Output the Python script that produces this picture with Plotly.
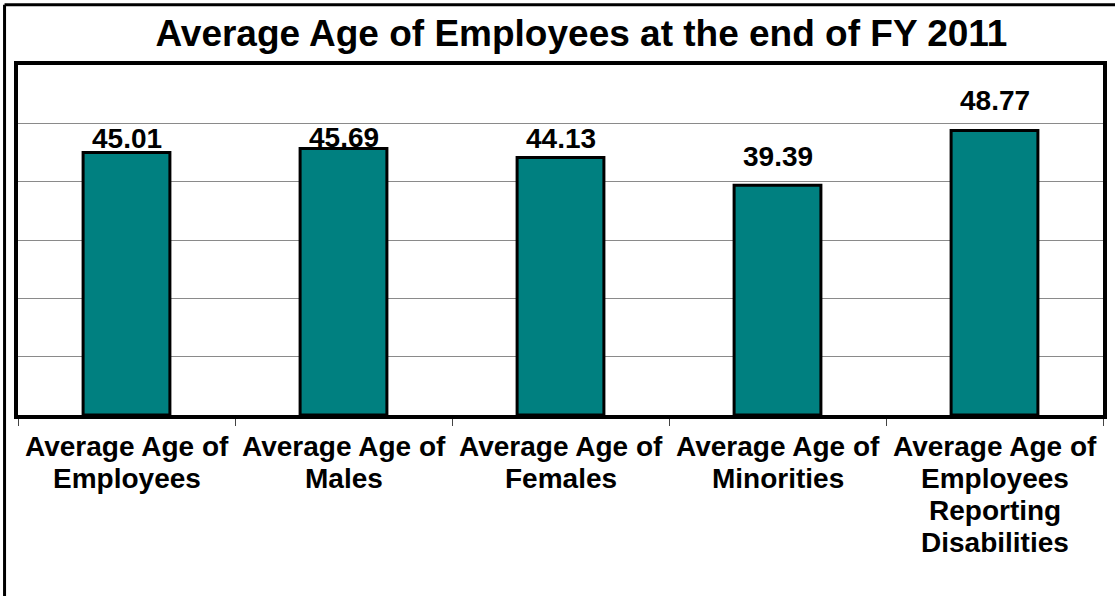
import plotly.graph_objects as go

# Chart data
categories = [
    "Average Age of Employees",
    "Average Age of Males",
    "Average Age of Females",
    "Average Age of Minorities",
    "Average Age of Employees Reporting Disabilities",
]
category_lines = [
    ["Average Age of", "Employees"],
    ["Average Age of", "Males"],
    ["Average Age of", "Females"],
    ["Average Age of", "Minorities"],
    ["Average Age of", "Employees", "Reporting", "Disabilities"],
]
avg_age = [45.01, 45.69, 44.13, 39.39, 48.77]

# Styling
FONT = "Liberation Sans, Arial, sans-serif"
BAR_COLOR = "#008080"
label_shift = [14, 10.5, 19.5, 28.5, 30]   # vertical offset of each value label (px)
line_step = 32                              # spacing of category label lines (px)
first_line_shift = -31

fig = go.Figure()
fig.add_trace(go.Bar(
    x=categories,
    y=avg_age,
    width=0.4,
    marker=dict(color=BAR_COLOR, line=dict(color="black", width=3)),
    hoverinfo="x+y",
))

annotations = []
# value labels above the bars
for cat, val, dy in zip(categories, avg_age, label_shift):
    annotations.append(dict(
        x=cat, y=val, xref="x", yref="y",
        text=f"<b>{val:.2f}</b>", showarrow=False,
        yanchor="middle", yshift=dy,
        font=dict(family=FONT, size=28, color="black"),
    ))
# multi-line category labels under the axis
for cat, lines in zip(categories, category_lines):
    for i, line in enumerate(lines):
        annotations.append(dict(
            x=cat, y=0, xref="x", yref="paper",
            text=f"<b>{line}</b>", showarrow=False,
            yanchor="middle", yshift=first_line_shift - i * line_step,
            font=dict(family=FONT, size=28, color="black"),
        ))

fig.update_layout(
    width=1115, height=596,
    margin=dict(l=18, r=8, t=65, b=181),
    paper_bgcolor="white",
    plot_bgcolor="white",
    showlegend=False,
    title=dict(
        text="<b>Average Age of Employees at the end of FY 2011</b>",
        font=dict(family=FONT, size=37, color="black"),
        x=0.5215, xanchor="center",
        y=1 - 33 / 596, yanchor="middle", yref="container",
    ),
    annotations=annotations,
    shapes=[
        # frame around the whole figure (top and left edges)
        dict(type="line", xref="paper", yref="paper",
             x0=-0.0124, x1=1.02, y0=1.172, y1=1.172,
             line=dict(color="black", width=3)),
        dict(type="line", xref="paper", yref="paper",
             x0=-0.0124, x1=-0.0124, y0=1.172, y1=-0.55,
             line=dict(color="black", width=3)),
    ],
)

fig.update_xaxes(
    showline=True, linecolor="black", linewidth=4, mirror=True,
    showticklabels=False,
    ticks="outside", tickson="boundaries", ticklen=7,
    tickcolor="#444444", tickwidth=1,
    showgrid=False, fixedrange=True,
)
fig.update_yaxes(
    range=[0, 60], dtick=10,
    showline=True, linecolor="black", linewidth=4, mirror=True,
    showticklabels=False, ticks="",
    showgrid=True, gridcolor="#8a8a8a", gridwidth=1,
    zeroline=False, fixedrange=True,
)

fig.write_html("out.html")
